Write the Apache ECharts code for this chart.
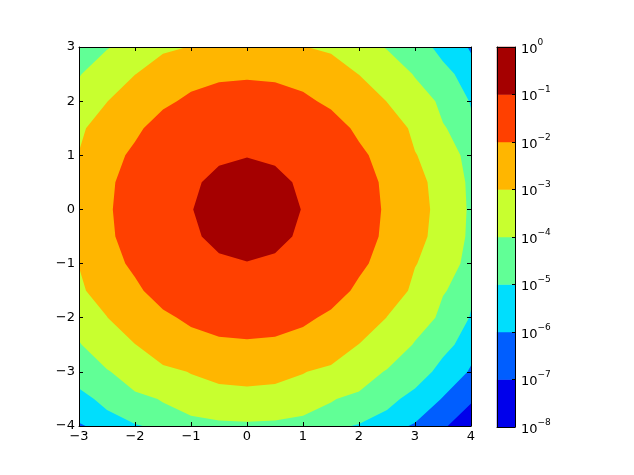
<!DOCTYPE html>
<html><head><meta charset="utf-8">
<script src="https://cdn.jsdelivr.net/npm/echarts@6/dist/echarts.min.js"></script>
<style>html,body{margin:0;padding:0;background:#fff}#c{width:634px;height:475px}</style>
</head><body><div id="c"></div>
<script>
// grid coordinates of the sampled surface
const xValues = [-3,-2.5,-2,-1.5,-1,-0.5,0,0.5,1,1.5,2,2.5,3,3.5,4];
const yValues = [-4,-3.5,-3,-2.5,-2,-1.5,-1,-0.5,0,0.5,1,1.5,2,2.5,3];
// z values, one row per y (bottom to top), one column per x
const zRows = [
 [5.931e-7,2.346e-6,7.226e-6,1.733e-5,3.238e-5,4.712e-5,5.339e-5,4.712e-5,3.238e-5,1.733e-5,7.226e-6,2.346e-6,5.931e-7,1.168e-7,1.791e-8],
 [3.868e-6,1.530e-5,4.712e-5,1.130e-4,2.112e-4,3.073e-4,3.482e-4,3.073e-4,2.112e-4,1.130e-4,4.712e-5,1.530e-5,3.868e-6,7.616e-7,1.168e-7],
 [1.964e-5,7.768e-5,2.393e-4,5.740e-4,1.072e-3,1.560e-3,1.768e-3,1.560e-3,1.072e-3,5.740e-4,2.393e-4,7.768e-5,1.964e-5,3.868e-6,5.931e-7],
 [7.768e-5,3.073e-4,9.464e-4,2.270e-3,4.241e-3,6.171e-3,6.993e-3,6.171e-3,4.241e-3,2.270e-3,9.464e-4,3.073e-4,7.768e-5,1.530e-5,2.346e-6],
 [2.393e-4,9.464e-4,2.915e-3,6.993e-3,1.306e-2,1.901e-2,2.154e-2,1.901e-2,1.306e-2,6.993e-3,2.915e-3,9.464e-4,2.393e-4,4.712e-5,7.226e-6],
 [5.740e-4,2.270e-3,6.993e-3,1.678e-2,3.134e-2,4.560e-2,5.167e-2,4.560e-2,3.134e-2,1.678e-2,6.993e-3,2.270e-3,5.740e-4,1.130e-4,1.733e-5],
 [1.072e-3,4.241e-3,1.306e-2,3.134e-2,5.855e-2,8.519e-2,9.653e-2,8.519e-2,5.855e-2,3.134e-2,1.306e-2,4.241e-3,1.072e-3,2.112e-4,3.238e-5],
 [1.560e-3,6.171e-3,1.901e-2,4.560e-2,8.519e-2,1.239e-1,1.405e-1,1.239e-1,8.519e-2,4.560e-2,1.901e-2,6.171e-3,1.560e-3,3.073e-4,4.712e-5],
 [1.768e-3,6.993e-3,2.154e-2,5.167e-2,9.653e-2,1.405e-1,1.592e-1,1.405e-1,9.653e-2,5.167e-2,2.154e-2,6.993e-3,1.768e-3,3.482e-4,5.339e-5],
 [1.560e-3,6.171e-3,1.901e-2,4.560e-2,8.519e-2,1.239e-1,1.405e-1,1.239e-1,8.519e-2,4.560e-2,1.901e-2,6.171e-3,1.560e-3,3.073e-4,4.712e-5],
 [1.072e-3,4.241e-3,1.306e-2,3.134e-2,5.855e-2,8.519e-2,9.653e-2,8.519e-2,5.855e-2,3.134e-2,1.306e-2,4.241e-3,1.072e-3,2.112e-4,3.238e-5],
 [5.740e-4,2.270e-3,6.993e-3,1.678e-2,3.134e-2,4.560e-2,5.167e-2,4.560e-2,3.134e-2,1.678e-2,6.993e-3,2.270e-3,5.740e-4,1.130e-4,1.733e-5],
 [2.393e-4,9.464e-4,2.915e-3,6.993e-3,1.306e-2,1.901e-2,2.154e-2,1.901e-2,1.306e-2,6.993e-3,2.915e-3,9.464e-4,2.393e-4,4.712e-5,7.226e-6],
 [7.768e-5,3.073e-4,9.464e-4,2.270e-3,4.241e-3,6.171e-3,6.993e-3,6.171e-3,4.241e-3,2.270e-3,9.464e-4,3.073e-4,7.768e-5,1.530e-5,2.346e-6],
 [1.964e-5,7.768e-5,2.393e-4,5.740e-4,1.072e-3,1.560e-3,1.768e-3,1.560e-3,1.072e-3,5.740e-4,2.393e-4,7.768e-5,1.964e-5,3.868e-6,5.931e-7]
];
// contour levels (powers of ten) and band colours (jet)
const levelExponents = [-8,-7,-6,-5,-4,-3,-2,-1,0];
const bandColors = ['#0000eb','#005eff','#00defd','#61ff96','#c8ff2f','#ffb600','#ff4000','#a50000'];
const xTicks = [-3,-2,-1,0,1,2,3,4];
const yTicks = [-4,-3,-2,-1,0,1,2,3];

const FONT = 'DejaVu Sans';
const fmtNum = v => v < 0 ? '\u2212' + (-v) : String(v);

function clipAbove(poly, level) {
  const out = [];
  const n = poly.length;
  for (let i = 0; i < n; i++) {
    const p = poly[i], q = poly[(i + 1) % n];
    const pin = p[2] >= level, qin = q[2] >= level;
    if (pin) out.push(p);
    if (pin !== qin) {
      const t = (level - p[2]) / (q[2] - p[2]);
      out.push([p[0] + t * (q[0] - p[0]), p[1] + t * (q[1] - p[1]), level]);
    }
  }
  return out;
}

function regionPath(api, level) {
  let d = '';
  for (let j = 0; j < yValues.length - 1; j++) {
    for (let i = 0; i < xValues.length - 1; i++) {
      let poly = [
        [xValues[i], yValues[j], zRows[j][i]],
        [xValues[i + 1], yValues[j], zRows[j][i + 1]],
        [xValues[i + 1], yValues[j + 1], zRows[j + 1][i + 1]],
        [xValues[i], yValues[j + 1], zRows[j + 1][i]]
      ];
      poly = clipAbove(poly, level);
      if (poly.length < 3) continue;
      poly.forEach((p, k) => {
        const c = api.coord([p[0], p[1]]);
        d += (k ? 'L' : 'M') + c[0].toFixed(2) + ' ' + c[1].toFixed(2);
      });
      d += 'Z';
    }
  }
  return d;
}

const bandData = bandColors.map((c, k) => [0, 0, k]);
const cbData = bandColors.map((c, k) => [0, levelExponents[k], k]);

const axisCommon = {
  axisLine: { show: true, onZero: false, lineStyle: { color: '#000', width: 1 } },
  axisTick: { show: true, inside: true, length: 4, lineStyle: { color: '#000' } },
  splitLine: { show: false },
  z: 10
};

const chart = echarts.init(document.getElementById('c'), null, { renderer: 'canvas' });
chart.setOption({
  animation: false,
  backgroundColor: '#fff',
  grid: [
    { left: 79, top: 47, width: 392, height: 379 },
    { left: 497, top: 47, width: 18, height: 380 }
  ],
  xAxis: [
    Object.assign({}, axisCommon, { gridIndex: 0, type: 'value', min: -3, max: 4, interval: 1, position: 'bottom',
      axisLabel: { formatter: fmtNum, margin: 4, color: '#000', fontFamily: FONT, fontSize: 13 } }),
    Object.assign({}, axisCommon, { gridIndex: 0, type: 'value', min: -3, max: 4, interval: 1, position: 'top',
      axisLabel: { show: false } }),
    Object.assign({}, axisCommon, { gridIndex: 1, type: 'value', min: 0, max: 1, position: 'bottom',
      axisTick: { show: false }, axisLabel: { show: false } }),
    Object.assign({}, axisCommon, { gridIndex: 1, type: 'value', min: 0, max: 1, position: 'top',
      axisTick: { show: false }, axisLabel: { show: false } })
  ],
  yAxis: [
    Object.assign({}, axisCommon, { gridIndex: 0, type: 'value', min: -4, max: 3, interval: 1, position: 'left',
      axisLabel: { formatter: fmtNum, margin: 4, color: '#000', fontFamily: FONT, fontSize: 13 } }),
    Object.assign({}, axisCommon, { gridIndex: 0, type: 'value', min: -4, max: 3, interval: 1, position: 'right',
      axisLabel: { show: false } }),
    Object.assign({}, axisCommon, { gridIndex: 1, type: 'value', min: -8, max: 0, interval: 1, position: 'right',
      axisTick: { show: true, inside: true, length: 3, lineStyle: { color: '#000' } },
      axisLabel: {
        margin: 6, color: '#000', fontFamily: FONT,
        formatter: v => '{b|10}{s|' + (v === 0 ? '0' : '\u2212' + (-v)) + '}',
        rich: {
          b: { fontSize: 13, fontFamily: FONT, color: '#000', lineHeight: 18, verticalAlign: 'bottom' },
          s: { fontSize: 9, fontFamily: FONT, color: '#000', lineHeight: 18, verticalAlign: 'top' }
        }
      } }),
    Object.assign({}, axisCommon, { gridIndex: 1, type: 'value', min: -8, max: 0, interval: 1, position: 'left',
      axisTick: { show: false }, axisLabel: { show: false } })
  ],
  series: [
    {
      type: 'custom', xAxisIndex: 0, yAxisIndex: 0, data: bandData, silent: true,
      encode: { x: 0, y: 1 },
      renderItem: (params, api) => {
        const k = api.value(2);
        const level = Math.pow(10, levelExponents[k]);
        return { type: 'path', shape: { pathData: regionPath(api, level) },
          style: { fill: bandColors[k], stroke: null } };
      }
    },
    {
      type: 'custom', xAxisIndex: 2, yAxisIndex: 2, data: cbData, silent: true,
      encode: { x: 0, y: 1 },
      renderItem: (params, api) => {
        const k = api.value(2);
        const p0 = api.coord([0, levelExponents[k]]);
        const p1 = api.coord([1, levelExponents[k + 1]]);
        return { type: 'rect', shape: { x: p0[0], y: p1[1], width: p1[0] - p0[0], height: p0[1] - p1[1] },
          style: { fill: bandColors[k], stroke: bandColors[k], lineWidth: 0.5 } };
      }
    }
  ]
});
</script></body></html>
